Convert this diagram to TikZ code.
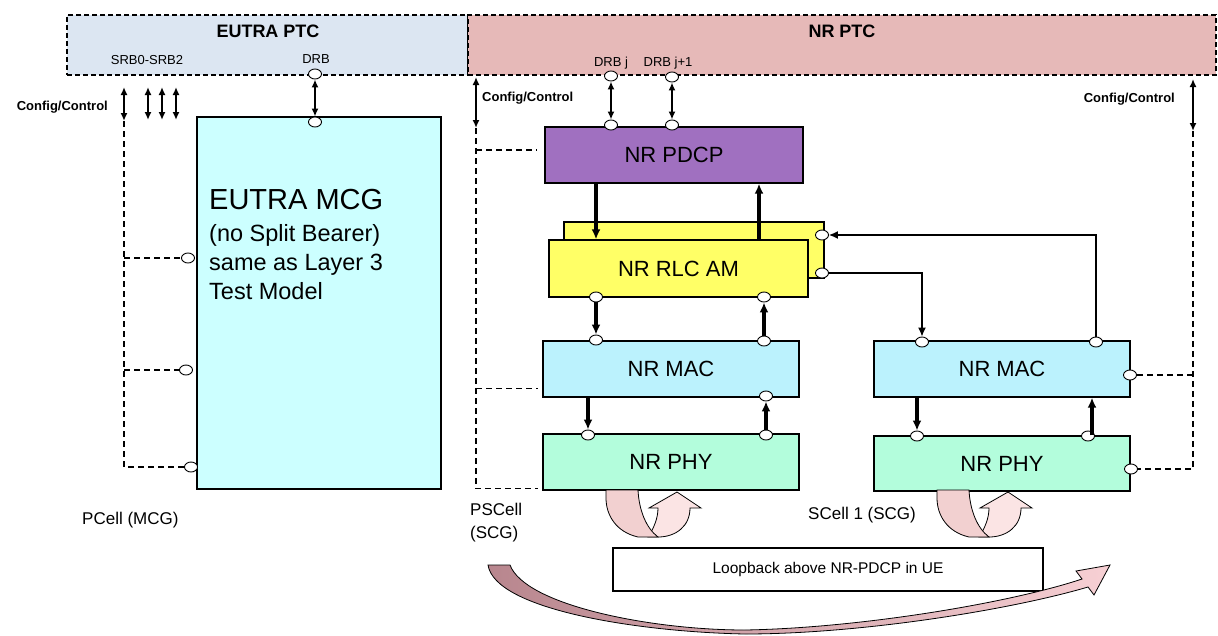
\documentclass[tikz,border=0pt]{standalone}
\usepackage{fontspec}
\setmainfont{Liberation Sans}
\usetikzlibrary{arrows.meta, shapes.geometric, positioning, calc}
\definecolor{eutraptc}{RGB}{220,230,242}
\definecolor{nrptc}{RGB}{230,185,184}
\definecolor{mcgfill}{RGB}{204,255,255}
\definecolor{pdcpfill}{RGB}{160,112,192}
\definecolor{rlcfill}{RGB}{255,255,102}
\definecolor{macfill}{RGB}{187,242,253}
\definecolor{phyfill}{RGB}{179,253,220}
\definecolor{loopdark}{RGB}{242,208,208}
\definecolor{looplight}{RGB}{251,228,228}
\definecolor{arcdark}{RGB}{184,134,142}
\definecolor{arclight}{RGB}{247,208,212}
\tikzset{
  layerbox/.style={
    rectangle, draw=black, line width=1.3pt, minimum width=256pt, minimum height=56pt,
    inner sep=0pt, font=\fontsize{22}{26}\selectfont
  },
  ptcbox/.style={rectangle, draw=black, dash pattern=on 5pt off 3pt, line width=1.2pt, minimum height=60pt, inner sep=0pt},
  port/.style={ellipse, draw=black, fill=white, line width=0.9pt, minimum width=13pt, minimum height=10pt, inner sep=0pt},
  bus/.style={-{Latex[length=10pt,width=9pt]}, line width=3.2pt},
  dbl/.style={{Latex[length=8pt,width=7pt]}-{Latex[length=8pt,width=7pt]}, line width=1.6pt},
  link/.style={-{Latex[length=9pt,width=8pt]}, line width=1.3pt},
  ctl/.style={dash pattern=on 6pt off 4pt, line width=1.6pt},
  lbl/.style={font=\fontsize{13}{15}\selectfont, inner sep=0pt},
  cfg/.style={font=\bfseries\fontsize{13}{15}\selectfont, inner sep=0pt},
  title/.style={font=\bfseries\fontsize{18}{21}\selectfont, inner sep=0pt},
  cell/.style={font=\fontsize{17}{23}\selectfont, inner sep=0pt, align=left}
}

\begin{document}
\begin{tikzpicture}[x=1pt, y=-1pt]
    \useasboundingbox (0,0) rectangle (1218,635);
    
    % PTC bars
    \node[ptcbox, fill=eutraptc, minimum width=401pt] (eptc) at (267.5,45) {};
    \node[ptcbox, fill=nrptc, minimum width=748pt] (nptc) at (842,45) {};
    \node[title] (eptcT) at (268,31) {EUTRA PTC};
    \node[title] (nptcT) at (842,31) {NR PTC};
    \node[lbl] (srbT) at (147,60) {SRB0-SRB2};
    \node[lbl] (edrbT) at (316,59) {DRB};
    \node[lbl] (drbjT) at (611,63) {DRB j};
    \node[lbl] (drbj1T) at (668,63) {DRB j+1};
    
    % EUTRA side
    \node[rectangle, draw=black, line width=1.3pt, fill=mcgfill, minimum width=244pt, minimum height=372pt] (mcg) at (319,303) {};
    \node[anchor=west, font=\fontsize{29}{33}\selectfont, inner sep=0pt] (mcgT) at (209,200) {EUTRA MCG};
    \node[anchor=west, font=\fontsize{23.5}{29}\selectfont, inner sep=0pt, align=left] (mcgS) at (209,262)
    {(no Split Bearer)\\same as Layer 3\\Test Model};
    \node[port] (eDRBtop) at (315,74) {};
    \node[port] (eDRBbot) at (315,122) {};
    \node[port] (ePort1) at (188,258) {};
    \node[port] (ePort2) at (186,370) {};
    \node[port] (ePort3) at (191,467) {};
    \draw[dbl] (eDRBtop.south) -- (eDRBbot.north);
    
    \coordinate (cfgEa) at (124,87);
    \coordinate (cfgEb) at (124,121);
    \draw[dbl] (cfgEa) -- (cfgEb);
    \foreach \sx [count=\i] in {148,162,176} {
        \coordinate (srb\i a) at (\sx,87);
        \coordinate (srb\i b) at (\sx,120);
        \draw[dbl] (srb\i a) -- (srb\i b);
    }
    \node[cfg, anchor=east] (cfgET) at (108,107) {Config/Control};
    \draw[ctl] (cfgEb) |- (ePort3.west);
    \draw[ctl] (cfgEb |- ePort1) -- (ePort1.west);
    \draw[ctl] (cfgEb |- ePort2) -- (ePort2.west);
    \node[cell, anchor=west] (pcellT) at (82,520) {PCell (MCG)};
    
    % NR stack, PSCell
    \node[layerbox, fill=pdcpfill, minimum width=258pt] (pdcp) at (674,155) {NR PDCP};
    \node[layerbox, fill=rlcfill, minimum width=260pt] (rlcB) at (694,250) {};
    \node[layerbox, fill=rlcfill, minimum width=259pt, minimum height=57pt] (rlcF) at (678.5,268.5) {NR RLC AM};
    \node[layerbox, fill=macfill] (macL) at (671,369) {NR MAC};
    \node[layerbox, fill=phyfill] (phyL) at (671,462) {NR PHY};
    
    % NR stack, SCell 1
    \node[layerbox, fill=macfill] (macR) at (1002,369) {NR MAC};
    \node[layerbox, fill=phyfill, minimum height=55pt] (phyR) at (1002,463.5) {NR PHY};
    
    % ports
    \node[port] (drbjTop) at (611,76) {};
    \node[port] (drbjBot) at (611,125) {};
    \node[port] (drbj1Top) at (672,77) {};
    \node[port] (drbj1Bot) at (672,125) {};
    \node[port] (rlcIn) at (822,235) {};
    \node[port] (rlcOut) at (822,273) {};
    \node[port] (rlcBL) at (596,297) {};
    \node[port] (rlcBR) at (764,297) {};
    \node[port] (macLTL) at (596,340) {};
    \node[port] (macLTR) at (764,341) {};
    \node[port] (macLBR) at (766,396) {};
    \node[port] (phyLTL) at (588,435) {};
    \node[port] (phyLTR) at (766,435) {};
    \node[port] (macRTL) at (922,342) {};
    \node[port] (macRTR) at (1096,342) {};
    \node[port] (macRR) at (1130,375) {};
    \node[port] (phyRTL) at (917,436) {};
    \node[port] (phyRTR) at (1088,436) {};
    \node[port] (phyRR) at (1131,469) {};
    
    % data paths
    \draw[dbl] (drbjTop.south) -- (drbjBot.north);
    \draw[dbl] (drbj1Top.south) -- (drbj1Bot.north);
    \draw[bus] (pdcp.south -| rlcBL) -- (rlcF.north -| rlcBL);
    \draw[bus] (rlcF.north -| 759,0) -- (pdcp.south -| 759,0);
    \draw[bus] (rlcBL.south) -- (macLTL.north);
    \draw[bus] (macLTR.north) -- (rlcBR.south);
    \draw[bus] (macL.south -| phyLTL) -- (phyLTL.north);
    \draw[bus] (phyLTR.north) -- (macLBR.south);
    \draw[bus] (macR.south -| phyRTL) -- (phyRTL.north);
    \draw[bus] (phyR.north -| 1092,0) -- (macR.south -| 1092,0);
    \draw[link] (rlcOut.east) -| (macRTL.north);
    \draw[link] (macRTR.north) |- (rlcIn.east);
    
    % config / control NR
    \coordinate (cfgNa) at (476,77);
    \coordinate (cfgNb) at (476,128);
    \coordinate (cfgRa) at (1193,79);
    \coordinate (cfgRb) at (1193,131);
    \draw[dbl] (cfgNa) -- (cfgNb);
    \draw[dbl] (cfgRa) -- (cfgRb);
    \node[cfg, anchor=west] (cfgNT) at (482,98) {Config/Control};
    \node[cfg, anchor=east] (cfgRT) at (1175,99) {Config/Control};
    \coordinate (pdcpDash) at ([xshift=-8pt,yshift=5pt]pdcp.west);
    \coordinate (macLdash) at ([xshift=-4pt,yshift=9pt]macL.south west);
    \coordinate (phyLdash) at ([xshift=-4pt,yshift=2pt]phyL.south west);
    \draw[ctl] (cfgNb) |- (phyLdash);
    \draw[ctl] (cfgNb |- pdcpDash) -- (pdcpDash);
    \draw[ctl] (cfgNb |- macLdash) -- (macLdash);
    \draw[ctl] (cfgRb) |- (phyRR.east);
    \draw[ctl] (cfgRb |- macRR) -- (macRR.east);
    
    % cell labels
    \node[cell, anchor=north west] (pscellT) at (470,503) {PSCell\\(SCG)};
    \node[cell, anchor=west] (scellT) at (808,515) {SCell 1 (SCG)};
    
    % loop arrows under PHY
    \foreach \lx in {606,937} {
        \begin{scope}[shift={(\lx,490)}]
            \draw[fill=looplight, line width=0.8pt] (42,47) .. controls (48,38) and (52,28) .. (52,18)
            -- (43,18) -- (71,2) -- (95,18) -- (84,18) .. controls (84,36) and (70,47) .. (52,47) -- cycle;
            \draw[fill=loopdark, line width=0.8pt] (0,0) -- (32,0) .. controls (33,20) and (40,38) .. (52,47)
            -- (32,47) .. controls (10,42) and (0,25) .. (0,8) -- cycle;
        \end{scope}
    }
    
    % loopback
    \node[rectangle, draw=black, line width=1.3pt, minimum width=430pt, minimum height=43pt,
    font=\fontsize{15.5}{18}\selectfont] (loop) at (828,569.5) {Loopback above NR-PDCP in UE};
    \draw[line width=0.8pt, left color=arcdark, right color=arclight]
    (488,565) .. controls (495,610) and (640,632) .. (745,634)
    .. controls (860,634) and (1010,610) .. (1088,587)
    -- (1094,595) -- (1110,565) -- (1076,571) -- (1082,579)
    .. controls (1010,603) and (860,628) .. (745,630)
    .. controls (650,630) and (525,605) .. (510,565) -- cycle;
    
\end{tikzpicture}
\end{document}
